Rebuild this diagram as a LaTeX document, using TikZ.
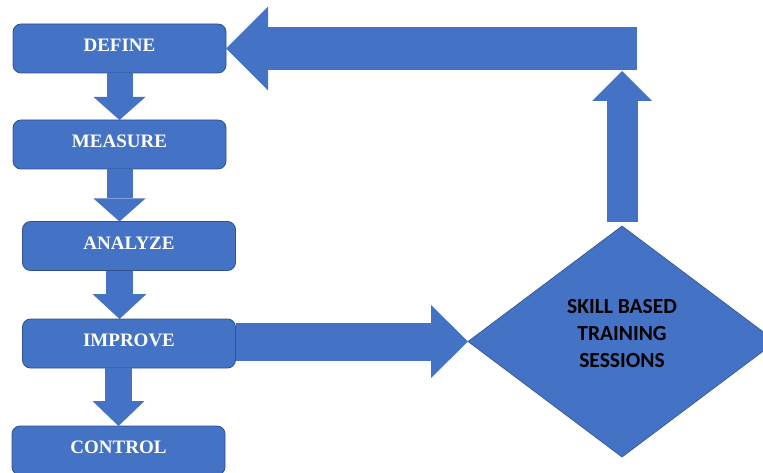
\documentclass[tikz,border=0pt]{standalone}
\usepackage{xcolor}
\usepackage{fontspec}
\setmainfont{Liberation Serif}
\newfontfamily\calibri{Carlito}
\usepackage{tikz}
\usetikzlibrary{arrows.meta,shapes.geometric}
\definecolor{boxblue}{HTML}{4472C4}
\definecolor{boxedge}{HTML}{2F528F}
\tikzset{stepbox/.style={draw=boxedge,line width=0.8pt,fill=boxblue,rounded corners=8pt,
    minimum width=213pt,minimum height=49pt,inner sep=0pt,outer sep=0pt,text=white,
    text depth=6pt,font=\fontsize{19}{22}\selectfont\bfseries},
  decision/.style={draw=boxedge,line width=0.6pt,fill=boxblue,diamond,inner sep=0pt,outer sep=0pt,
    minimum width=308pt,minimum height=231pt,align=center,text=black,text depth=17pt,
    font=\calibri\fontsize{21.5}{27}\selectfont\bfseries},
  blockarrow/.style n args={3}{draw=boxblue,line width=#1,
    -{Triangle[width=#2,length=#3,line width=0pt]}}}

\begin{document}
\begin{tikzpicture}[x=1pt,y=-1pt]
\useasboundingbox (0,0) rectangle (763,473);
\node[stepbox] (define) at (119.5,48.5) {DEFINE};
\node[stepbox] (measure) at (119.5,144.5) {MEASURE};
\node[stepbox] (analyze) at (129,246) {ANALYZE};
\node[stepbox] (improve) at (129,343.5) {IMPROVE};
\node[stepbox] (control) at (118.5,450.5) {CONTROL};
\node[decision] (skill) at (622,341.5) {SKILL BASED\\TRAINING\\SESSIONS};
\coordinate (corner) at (622,71);
\coordinate (loop) at (637,48.5);
\draw[blockarrow={26pt}{52pt}{23pt}] (define.south) -- (measure.north);
\draw[blockarrow={26pt}{52pt}{23pt}] (measure.south) -- (analyze.north -| measure.south);
\draw[blockarrow={27pt}{54pt}{25pt}] (analyze.south -| measure.south) -- (improve.north -| measure.south);
\draw[blockarrow={27pt}{52pt}{25pt}] (improve.south -| control.south) -- (control.north);
\draw[blockarrow={38pt}{73pt}{37pt}] (improve.east |- skill.west) -- (skill.west);
\draw[blockarrow={31pt}{60pt}{30pt}] ([yshift=4pt]skill.north) -- (corner);
\draw[blockarrow={43pt}{84pt}{42pt}] (loop) -- (define.east);
\end{tikzpicture}
\end{document}
